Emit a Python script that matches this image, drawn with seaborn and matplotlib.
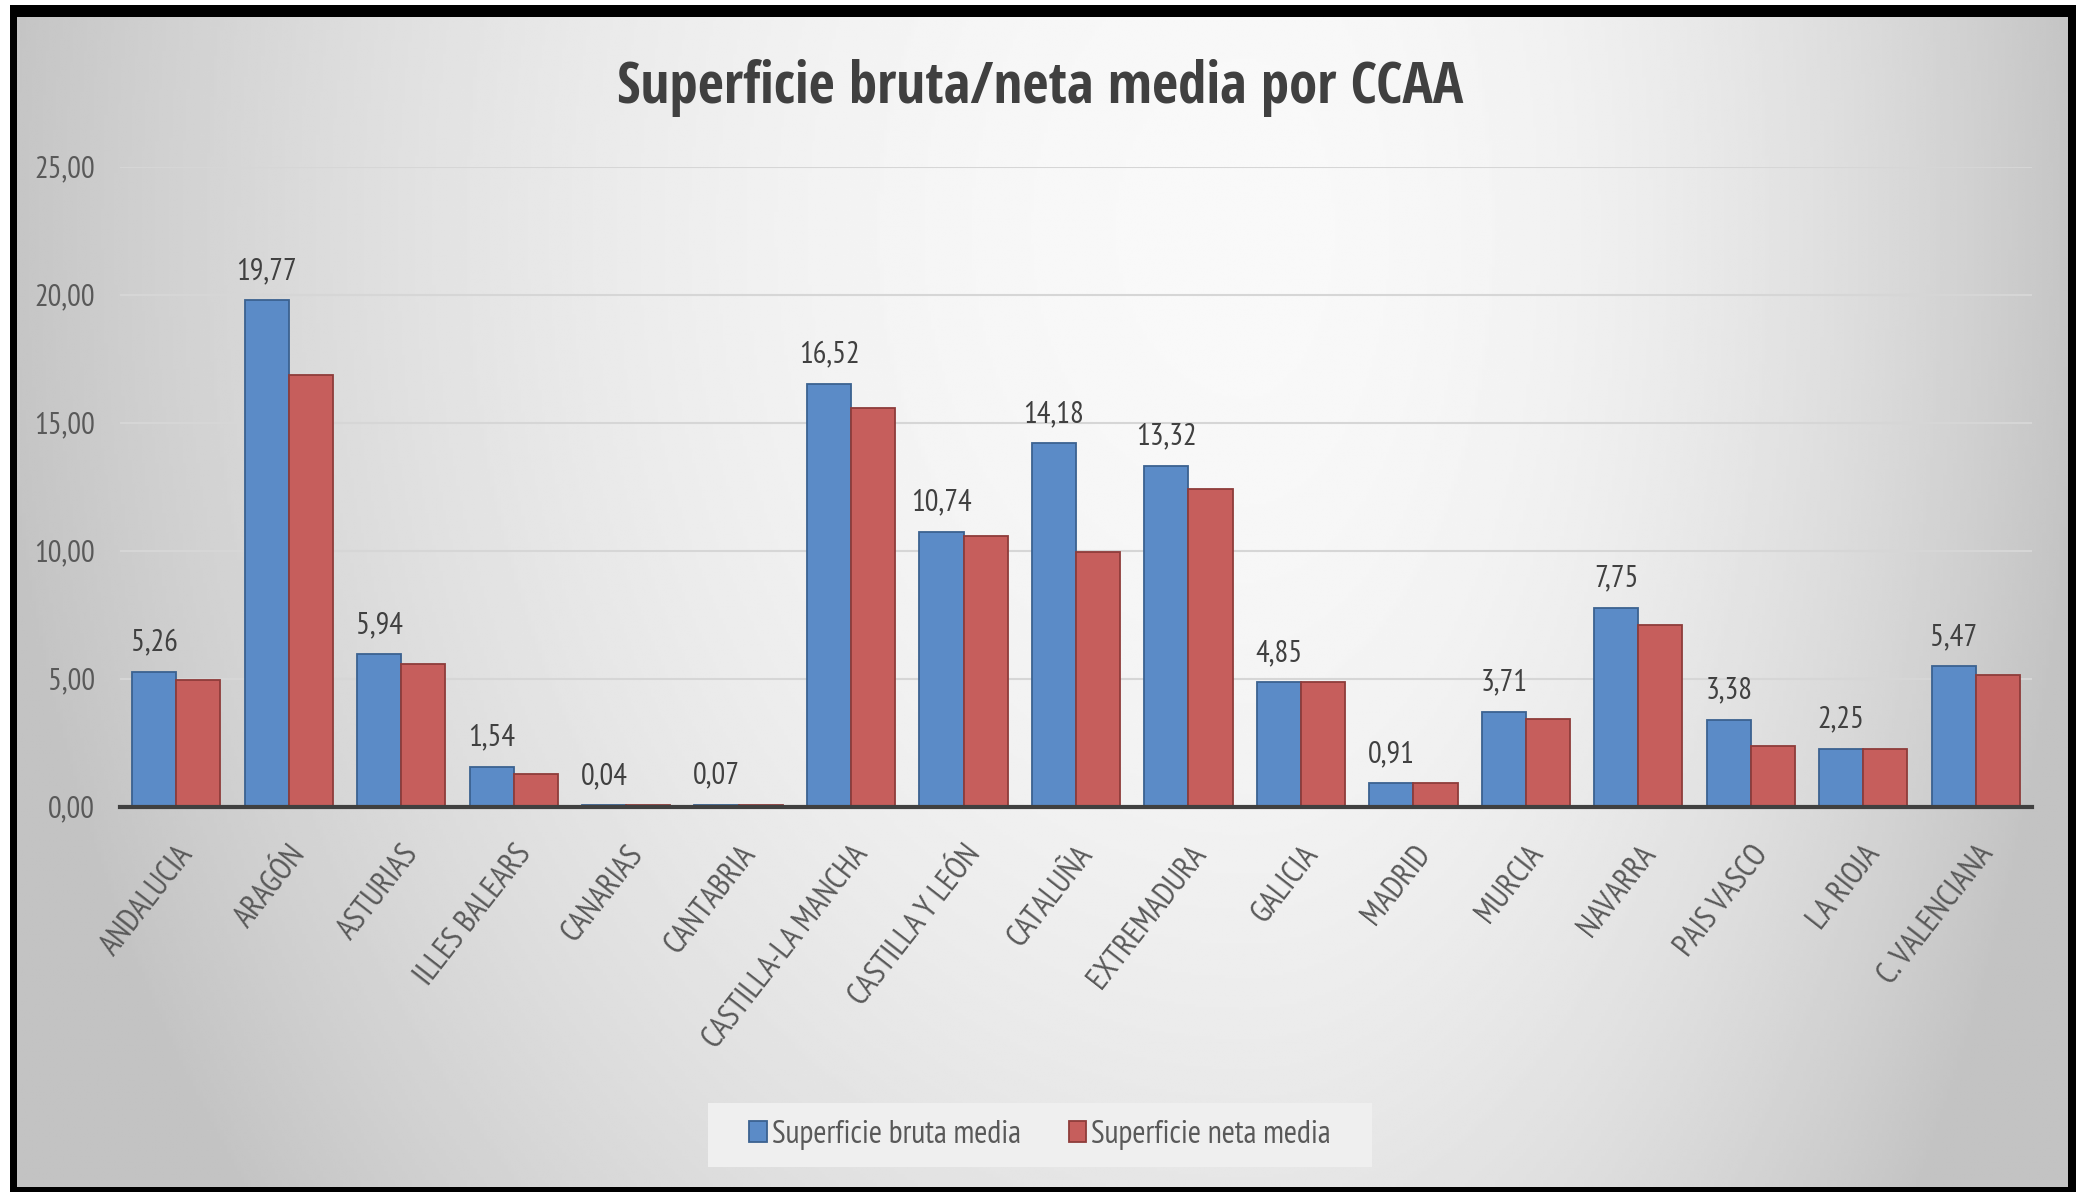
import numpy as np
import pandas as pd
import matplotlib
matplotlib.use("Agg")
import matplotlib.pyplot as plt
import seaborn as sns
from matplotlib.patches import Rectangle, Patch

# ---------------- data ----------------
ccaa = ["ANDALUCIA", "ARAGÓN", "ASTURIAS", "ILLES BALEARS", "CANARIAS", "CANTABRIA",
        "CASTILLA-LA MANCHA", "CASTILLA Y LEÓN", "CATALUÑA", "EXTREMADURA", "GALICIA",
        "MADRID", "MURCIA", "NAVARRA", "PAIS VASCO", "LA RIOJA", "C. VALENCIANA"]
bruta = [5.26, 19.77, 5.94, 1.54, 0.04, 0.07, 16.52, 10.74, 14.18, 13.32, 4.85,
         0.91, 3.71, 7.75, 3.38, 2.25, 5.47]
neta = [4.96, 16.86, 5.57, 1.27, 0.04, 0.07, 15.57, 10.57, 9.95, 12.39, 4.85,
        0.91, 3.42, 7.09, 2.35, 2.25, 5.12]
series = ["Superficie bruta media", "Superficie neta media"]
yticks = [0, 5, 10, 15, 20, 25]
title = "Superficie bruta/neta media por CCAA"

df = pd.DataFrame({
    "ccaa": ccaa * 2,
    "valor": bruta + neta,
    "serie": [series[0]] * len(ccaa) + [series[1]] * len(ccaa),
})

def fmt(v):
    return f"{v:.2f}".replace(".", ",")

# ---------------- style ----------------
sns.set_theme(style="white")
FONT = ["PT Sans Narrow", "Fira Sans Condensed", "Open Sans", "DejaVu Sans"]
TITLE_FONT = ["Open Sans Condensed", "Carlito", "Open Sans", "DejaVu Sans"]
plt.rcParams["font.family"] = FONT

W, H = 2083, 1192
fig = plt.figure(figsize=(W / 100, H / 100), dpi=100, facecolor="white")

def fx(px):
    return px / W

def fy(py):
    return 1 - py / H

# black frame
fig.add_artist(Rectangle((fx(10), fy(1192)), fx(2076) - fx(10), fy(5) - fy(1192),
                         transform=fig.transFigure, facecolor="black",
                         edgecolor="none", zorder=-30))

# gradient background inside the frame
bg = fig.add_axes([fx(17), fy(1187), fx(2068) - fx(17), fy(17) - fy(1187)], zorder=-20)
xs = np.linspace(0, 1, 600)
ys = np.linspace(0, 1, 400)
X, Y = np.meshgrid(xs, ys)
cx, cy = 0.6, 0.18
dx = np.where(X < cx, (X - cx) / cx, (X - cx) / (1 - cx))
dy = (Y - cy) / 1.35
r2 = np.clip(dx ** 2 + dy ** 2, 0, 1.05)
grad = 0.975 - 0.2 * r2
bg.imshow(grad, extent=[0, 1, 0, 1], aspect="auto", cmap="gray", vmin=0, vmax=1,
          origin="upper", interpolation="bilinear")
bg.axis("off")

# main axes
ax = fig.add_axes([fx(120), fy(806.5), fx(2032) - fx(120), fy(166.5) - fy(806.5)])
ax.patch.set_alpha(0)

blue, red = "#5B8BC7", "#C65E5C"
blue_e, red_e = "#3B6290", "#8E3C3A"

sns.barplot(data=df, x="ccaa", y="valor", hue="serie", palette=[blue, red],
            width=0.784, gap=0, errorbar=None, legend=False, ax=ax, saturation=1)

for cont, ec in zip(ax.containers, [blue_e, red_e]):
    for p in cont:
        p.set_edgecolor(ec)
        p.set_linewidth(1.3)

ax.bar_label(ax.containers[0], labels=[fmt(v) for v in bruta], padding=11,
             fontsize=22, color="#404040")

ax.set_xlim(-0.5, len(ccaa) - 0.5)
ax.set_ylim(0, 25)
ax.set_yticks(yticks)
ax.set_yticklabels([fmt(v) for v in yticks], fontsize=22, color="#595959")
ax.set_xticks(range(len(ccaa)))
ax.set_xticklabels(ccaa, rotation=52, ha="right", rotation_mode="anchor",
                   fontsize=23, color="#595959")
ax.tick_params(axis="y", length=0, pad=18)
ax.tick_params(axis="x", length=0, pad=24)
ax.set_xlabel("")
ax.set_ylabel("")
ax.yaxis.grid(True, color="#d6d6d6", linewidth=1.5)
ax.set_axisbelow(True)
for s in ["top", "right", "left"]:
    ax.spines[s].set_visible(False)
ax.spines["bottom"].set_color("#404040")
ax.spines["bottom"].set_linewidth(3)
ax.spines["bottom"].set_zorder(5)

# title
fig.text(fx(1040), fy(103), title, ha="center", va="baseline", fontsize=41,
         fontweight="bold", color="#404040", family=TITLE_FONT)

# legend box and legend
fig.add_artist(Rectangle((fx(708), fy(1167)), fx(1372) - fx(708), fy(1103) - fy(1167),
                         transform=fig.transFigure, facecolor="#efefef",
                         edgecolor="none", zorder=1))
handles = [Patch(facecolor=blue, edgecolor=blue_e, linewidth=1.3),
           Patch(facecolor=red, edgecolor=red_e, linewidth=1.3)]
leg = fig.legend(handles, series, loc="center", bbox_to_anchor=(fx(1040), fy(1135)),
                 ncol=2, frameon=False, fontsize=23, handlelength=0.55,
                 handleheight=0.62, handletextpad=0.15, columnspacing=1.5)
leg.set_zorder(2)
for t in leg.get_texts():
    t.set_color("#595959")

fig.savefig("out.png", dpi=100)
